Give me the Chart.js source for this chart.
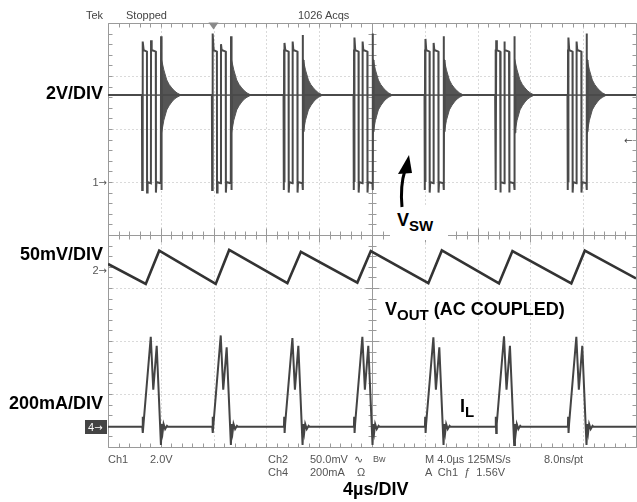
<!DOCTYPE html>
<html lang="en">
<head>
  <meta charset="UTF-8" />
  <title>Switching waveforms</title>
  <script src="https://cdn.jsdelivr.net/npm/chart.js@4.4.1/dist/chart.umd.min.js"></script>
  <style>
    body { margin: 0; background: #fff; }
    #wrap { position: relative; width: 637px; height: 502px; overflow: hidden; }
    #scope { position: absolute; left: 0; top: 0; }
    .t { position: absolute; white-space: nowrap; font-family: 'Liberation Sans', Arial, sans-serif; }
    .ro { font-size: 11px; line-height: 12px; color: #555; }
    .arr { font-family: 'DejaVu Sans', sans-serif; font-size: 10px; }
    .lbl { font-size: 18px; line-height: 18px; font-weight: bold; color: #000; }
    .lbl sub { font-size: 15px; line-height: 0; vertical-align: -5px; }
    .white { position: absolute; background: #fff; }
    #ch4 { left: 85px; top: 420px; width: 22px; height: 14px; background: #444; color: #fff; line-height: 14px; padding-left: 3px; box-sizing: border-box; }
  </style>
</head>
<body>
<div id="wrap">
  <canvas id="scope" width="637" height="502"></canvas>

  <!-- scope readouts -->
  <span class="t ro" style="left:86px; top:9px; color:#444;">Tek</span>
  <span class="t ro" style="left:126px; top:9px; color:#444;">Stopped</span>
  <span class="t ro" style="left:298px; top:9px; color:#444;">1026 Acqs</span>

  <span class="t ro" style="right:530px; top:176px;">1<span class="arr">→</span></span>
  <span class="t ro" style="right:530px; top:264px;">2<span class="arr">→</span></span>
  <span class="t ro" id="ch4">4<span class="arr">→</span></span>
  <span class="t ro arr" style="left:624px; top:135px; color:#444;">←</span>

  <span class="t ro" style="left:108px; top:453px;">Ch1</span>
  <span class="t ro" style="left:150px; top:453px;">2.0V</span>
  <span class="t ro" style="left:268px; top:453px;">Ch2</span>
  <span class="t ro" style="left:310px; top:453px;">50.0mV</span>
  <span class="t ro" style="left:354px; top:453px;">∿</span>
  <span class="t ro" style="left:373px; top:453px; font-size:9px;">Bw</span>
  <span class="t ro" style="left:425px; top:453px;">M 4.0µs 125MS/s</span>
  <span class="t ro" style="left:544px; top:453px;">8.0ns/pt</span>
  <span class="t ro" style="left:268px; top:466px;">Ch4</span>
  <span class="t ro" style="left:310px; top:466px;">200mA</span>
  <span class="t ro" style="left:357px; top:466px;">Ω</span>
  <span class="t ro" style="left:425px; top:466px;">A &nbsp;Ch1 &nbsp;ƒ &nbsp;1.56V</span>

  <!-- annotations -->
  <span class="t lbl" style="right:534px; top:84px;">2V/DIV</span>
  <span class="t lbl" style="right:534px; top:245px;">50mV/DIV</span>
  <span class="t lbl" style="right:534px; top:394px;">200mA/DIV</span>
  <span class="t lbl" style="left:343px; top:480px;">4µs/DIV</span>

  <div class="white" style="left:390px; top:207px; width:58px; height:33px;"></div>
  <span class="t lbl" style="left:397px; top:211px;">V<sub>SW</sub></span>
  <span class="t lbl" style="left:385px; top:300px;">V<sub>OUT</sub> (AC COUPLED)</span>
  <span class="t lbl" style="left:460px; top:397px;">I<sub>L</sub></span>

  <svg style="position:absolute; left:0; top:0;" width="637" height="502">
    <path d="M402 207 Q400 186 405 170" stroke="#000" stroke-width="3" fill="none" />
    <polygon points="409,155 398,174 412,173" fill="#000" />
  </svg>
</div>

<script>
  // horizontal: 4 us/div, 10 divisions; vertical: 8 divisions
  const timeDivsUs = [0, 4, 8, 12, 16, 20, 24, 28, 32, 36, 40];
  const screenDivs = [-4, -3, -2, -1, 0, 1, 2, 3, 4];

  // channel settings (scale per division, ground marker position in divisions)
  const ch1VoltsPerDiv = 2,   ch1Ground = 1.0;
  const ch2MvPerDiv = 50,     ch2Ground = -0.66;
  const ch4MaPerDiv = 200,    ch4Ground = -3.62;
  const triggerTimeUs = 7.95;

  // Ch1: switch node V_SW [us, V]
  const vswTrace = [
    [0, 3.28],
    [2.57, 3.28], [2.59, -0.3], [2.61, 5.0], [2.63, 0.0], [2.65, 5.3], [2.70, 4.98], [2.95, 4.92], [2.96, -0.4], [3.00, 0.0], [3.25, -0.05], [3.26, 5.35], [3.31, 4.98], [3.62, 4.92], [3.63, -0.4], [3.67, 0.0], [4.00, -0.05], [4.02, 5.5], [4.04, -0.3], [4.06, 4.6], [4.08, 1.9], [4.10, 3.28],
    [7.87, 3.28], [7.89, -0.3], [7.91, 5.0], [7.93, 0.0], [7.95, 5.6], [8.00, 4.98], [8.25, 4.92], [8.26, -0.4], [8.30, 0.0], [8.55, -0.05], [8.56, 5.2], [8.61, 4.98], [8.92, 4.92], [8.93, -0.4], [8.97, 0.0], [9.30, -0.05], [9.32, 5.5], [9.34, -0.3], [9.36, 4.6], [9.38, 1.9], [9.40, 3.28],
    [13.30, 3.28], [13.32, -0.3], [13.34, 5.0], [13.36, 0.0], [13.38, 5.25], [13.43, 4.98], [13.68, 4.92], [13.69, -0.4], [13.73, 0.0], [13.98, -0.05], [13.99, 5.3], [14.04, 4.98], [14.35, 4.92], [14.36, -0.4], [14.40, 0.0], [14.73, -0.05], [14.75, 5.55], [14.77, -0.3], [14.79, 4.6], [14.81, 1.9], [14.83, 3.28],
    [18.60, 3.28], [18.62, -0.3], [18.64, 5.0], [18.66, 0.0], [18.68, 5.45], [18.73, 4.98], [18.98, 4.92], [18.99, -0.4], [19.03, 0.0], [19.28, -0.05], [19.29, 5.3], [19.34, 4.98], [19.65, 4.92], [19.66, -0.4], [19.70, 0.0], [20.03, -0.05], [20.05, 5.6], [20.07, -0.3], [20.09, 4.6], [20.11, 1.9], [20.13, 3.28],
    [23.98, 3.28], [24.00, -0.3], [24.02, 5.0], [24.04, 0.0], [24.06, 5.4], [24.11, 4.98], [24.36, 4.92], [24.37, -0.4], [24.41, 0.0], [24.66, -0.05], [24.67, 5.25], [24.72, 4.98], [25.03, 4.92], [25.04, -0.4], [25.08, 0.0], [25.41, -0.05], [25.43, 5.5], [25.45, -0.3], [25.47, 4.6], [25.49, 1.9], [25.51, 3.28],
    [29.33, 3.28], [29.35, -0.3], [29.37, 5.0], [29.39, 0.0], [29.41, 5.35], [29.46, 4.98], [29.71, 4.92], [29.72, -0.4], [29.76, 0.0], [30.01, -0.05], [30.02, 5.3], [30.07, 4.98], [30.38, 4.92], [30.39, -0.4], [30.43, 0.0], [30.76, -0.05], [30.78, 5.5], [30.80, -0.3], [30.82, 4.6], [30.84, 1.9], [30.86, 3.28],
    [34.81, 3.28], [34.83, -0.3], [34.85, 5.0], [34.87, 0.0], [34.89, 5.45], [34.94, 4.98], [35.19, 4.92], [35.20, -0.4], [35.24, 0.0], [35.49, -0.05], [35.50, 5.3], [35.55, 4.98], [35.86, 4.92], [35.87, -0.4], [35.91, 0.0], [36.24, -0.05], [36.26, 5.6], [36.28, -0.3], [36.30, 4.6], [36.32, 1.9], [36.34, 3.28],
    [40, 3.28]
  ];

  // Ch1 ringing after each burst, drawn as the filled envelope the scope shows
  const ringTimesUs = [
    0,
    4.04, 4.05, 4.23, 4.45, 4.63, 4.83, 5.03, 5.23, 5.53,
    9.34, 9.35, 9.53, 9.75, 9.93, 10.13, 10.33, 10.53, 10.83,
    14.77, 14.78, 14.96, 15.18, 15.36, 15.56, 15.76, 15.96, 16.26,
    20.07, 20.08, 20.26, 20.48, 20.66, 20.86, 21.06, 21.26, 21.56,
    25.45, 25.46, 25.64, 25.86, 26.04, 26.24, 26.44, 26.64, 26.94,
    30.80, 30.81, 30.99, 31.21, 31.39, 31.59, 31.79, 31.99, 32.29,
    36.28, 36.29, 36.47, 36.69, 36.87, 37.07, 37.27, 37.47, 37.77,
    40
  ];
  const ringUpperV = [
    3.28,
    3.28, 4.63, 4.23, 3.85, 3.68, 3.55, 3.44, 3.36, 3.28,
    3.28, 4.63, 4.23, 3.85, 3.68, 3.55, 3.44, 3.36, 3.28,
    3.28, 4.63, 4.23, 3.85, 3.68, 3.55, 3.44, 3.36, 3.28,
    3.28, 4.63, 4.23, 3.85, 3.68, 3.55, 3.44, 3.36, 3.28,
    3.28, 4.63, 4.23, 3.85, 3.68, 3.55, 3.44, 3.36, 3.28,
    3.28, 4.63, 4.23, 3.85, 3.68, 3.55, 3.44, 3.36, 3.28,
    3.28, 4.63, 4.23, 3.85, 3.68, 3.55, 3.44, 3.36, 3.28,
    3.28
  ];
  const ringLowerV = [
    3.28,
    3.28, 1.83, 2.33, 2.72, 2.88, 3.02, 3.13, 3.20, 3.28,
    3.28, 1.83, 2.33, 2.72, 2.88, 3.02, 3.13, 3.20, 3.28,
    3.28, 1.83, 2.33, 2.72, 2.88, 3.02, 3.13, 3.20, 3.28,
    3.28, 1.83, 2.33, 2.72, 2.88, 3.02, 3.13, 3.20, 3.28,
    3.28, 1.83, 2.33, 2.72, 2.88, 3.02, 3.13, 3.20, 3.28,
    3.28, 1.83, 2.33, 2.72, 2.88, 3.02, 3.13, 3.20, 3.28,
    3.28, 1.83, 2.33, 2.72, 2.88, 3.02, 3.13, 3.20, 3.28,
    3.28
  ];

  // Ch2: output ripple, AC coupled [us, mV]
  const voutTrace = [
    [0, 5.7],
    [2.86, -13.2], [3.88, 18.2],
    [8.16, -13.2], [9.18, 18.9],
    [13.59, -12.5], [14.61, 17.2],
    [18.89, -11.9], [19.91, 17.9],
    [24.27, -12.5], [25.29, 18.4],
    [29.62, -12.7], [30.64, 17.9],
    [35.10, -12.7], [36.12, 18.2],
    [40, -8.0]
  ];

  // Ch4: inductor current I_L [us, mA]
  const ilTrace = [
    [0, 0],
    [2.60, 0], [2.62, 38], [2.65, -23], [2.69, 11], [3.24, 340], [3.43, 140], [3.69, 306], [4.01, -68], [4.07, 11], [4.14, -19], [4.21, 11], [4.33, -8], [4.47, 4], [4.55, 0],
    [7.90, 0], [7.92, 38], [7.95, -23], [7.99, 11], [8.54, 345], [8.73, 140], [8.99, 300], [9.31, -68], [9.37, 11], [9.44, -19], [9.51, 11], [9.63, -8], [9.77, 4], [9.85, 0],
    [13.33, 0], [13.35, 38], [13.38, -23], [13.42, 11], [13.97, 335], [14.16, 140], [14.42, 306], [14.74, -68], [14.80, 11], [14.87, -19], [14.94, 11], [15.06, -8], [15.20, 4], [15.28, 0],
    [18.63, 0], [18.65, 38], [18.68, -23], [18.72, 11], [19.27, 340], [19.46, 140], [19.72, 306], [20.04, -68], [20.10, 11], [20.17, -19], [20.24, 11], [20.36, -8], [20.50, 4], [20.58, 0],
    [24.01, 0], [24.03, 38], [24.06, -23], [24.10, 11], [24.65, 338], [24.84, 140], [25.10, 300], [25.42, -68], [25.48, 11], [25.55, -19], [25.62, 11], [25.74, -8], [25.88, 4], [25.96, 0],
    [29.36, 0], [29.38, 38], [29.41, -23], [29.45, 11], [30.00, 342], [30.19, 140], [30.45, 306], [30.77, -68], [30.83, 11], [30.90, -19], [30.97, 11], [31.09, -8], [31.23, 4], [31.31, 0],
    [34.84, 0], [34.86, 38], [34.89, -23], [34.93, 11], [35.48, 340], [35.67, 140], [35.93, 306], [36.25, -68], [36.31, 11], [36.38, -19], [36.45, 11], [36.57, -8], [36.71, 4], [36.79, 0],
    [40, 0]
  ];

  const toDiv = (pairs, perDiv, ground) => pairs.map(([t, v]) => ({ x: t, y: v / perDiv + ground }));

  const graticule = {
    id: 'graticule',
    beforeDatasetsDraw(chart) {
      const { ctx, scales } = chart;
      const X = v => Math.round(scales.x.getPixelForValue(v)) + 0.5;
      const Y = v => Math.round(scales.y.getPixelForValue(v)) + 0.5;
      const seg = (x1, y1, x2, y2) => { ctx.beginPath(); ctx.moveTo(x1, y1); ctx.lineTo(x2, y2); ctx.stroke(); };
      const left = X(0), right = X(40), top = Y(4), bottom = Y(-4);
      ctx.save();
      ctx.lineWidth = 1;

      // dotted division lines
      ctx.strokeStyle = '#b5b5b5';
      ctx.setLineDash([1, 3]);
      timeDivsUs.forEach(t => { if (t > 0 && t < 40 && t !== 20) seg(X(t), top, X(t), bottom); });
      screenDivs.forEach(d => { if (d > -4 && d < 4 && d !== 0) seg(left, Y(d), right, Y(d)); });
      ctx.setLineDash([]);

      // frame and centre cross
      ctx.strokeStyle = '#9a9a9a';
      seg(left, top, right, top);
      seg(left, bottom, right, bottom);
      seg(left, top, left, bottom);
      seg(right, top, right, bottom);
      seg(X(20), top, X(20), bottom);
      seg(left, Y(0), right, Y(0));

      // minor ticks, five per division
      for (let i = 0; i <= 50; i++) {
        const xp = X(i * 0.8);
        const len = i % 5 === 0 ? 7 : 4;
        seg(xp, Y(0) - len, xp, Y(0) + len);
        seg(xp, top, xp, top + 4);
        seg(xp, bottom, xp, bottom - 4);
      }
      for (let i = 0; i <= 40; i++) {
        const yp = Y(-4 + i * 0.2);
        const len = i % 5 === 0 ? 7 : 4;
        seg(X(20) - len, yp, X(20) + len, yp);
        seg(left, yp, left + 4, yp);
        seg(right, yp, right - 4, yp);
      }

      // trigger position marker
      const tx = X(triggerTimeUs);
      ctx.fillStyle = '#8a8a8a';
      ctx.beginPath();
      ctx.moveTo(tx - 5, top - 1);
      ctx.lineTo(tx + 5, top - 1);
      ctx.lineTo(tx, top + 6);
      ctx.closePath();
      ctx.fill();
      ctx.restore();
    }
  };

  const ringUpper = ringTimesUs.map((t, i) => ({ x: t, y: ringUpperV[i] / ch1VoltsPerDiv + ch1Ground }));
  const ringLower = ringTimesUs.map((t, i) => ({ x: t, y: ringLowerV[i] / ch1VoltsPerDiv + ch1Ground }));

  const lineSet = (data, color, width) => ({
    data: data,
    borderColor: color,
    borderWidth: width,
    pointRadius: 0,
    fill: false,
    tension: 0
  });

  new Chart(document.getElementById('scope').getContext('2d'), {
    type: 'line',
    data: {
      datasets: [
        lineSet(toDiv(vswTrace, ch1VoltsPerDiv, ch1Ground), '#4a4a4a', 2),
        lineSet(toDiv(voutTrace, ch2MvPerDiv, ch2Ground), '#333', 2.6),
        lineSet(toDiv(ilTrace, ch4MaPerDiv, ch4Ground), '#444', 2),
        { data: ringUpper, borderColor: '#555', borderWidth: 1, pointRadius: 0, tension: 0,
          fill: '+1', backgroundColor: '#555' },
        { data: ringLower, borderColor: '#555', borderWidth: 1, pointRadius: 0, tension: 0, fill: false }
      ]
    },
    options: {
      responsive: false,
      animation: false,
      devicePixelRatio: 1,
      layout: { padding: { left: 108, top: 23, right: 1, bottom: 55 } },
      scales: {
        x: { type: 'linear', min: 0, max: 40, display: false },
        y: { type: 'linear', min: -4, max: 4, display: false }
      },
      plugins: {
        legend: { display: false },
        tooltip: { enabled: false }
      }
    },
    plugins: [graticule]
  });
</script>
</body>
</html>
